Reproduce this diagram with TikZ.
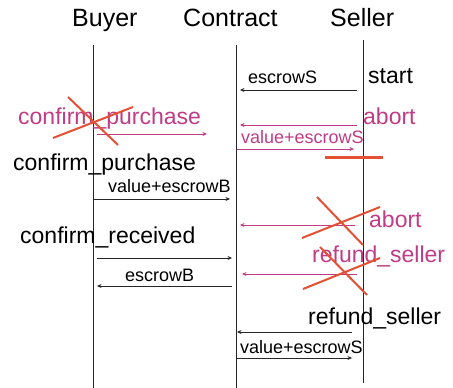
\documentclass[tikz,border=0pt]{standalone}
\usepackage{fontspec}
\setmainfont{Liberation Sans}
\usepackage{xcolor}
\usetikzlibrary{arrows.meta}
\tikzset{>={Stealth[length=4.5pt,width=4pt]}}
\definecolor{msgpink}{RGB}{192,60,132}
\definecolor{crossred}{RGB}{228,80,52}
\tikzset{
  lifeline/.style={line width=0.9pt, black!85},
  msg/.style={->, line width=0.8pt, black!85},
  pinkmsg/.style={->, line width=0.8pt, msgpink},
  txt/.style={inner sep=0pt, anchor=base west},
  party/.style={txt, font=\fontsize{25}{29}\selectfont},
  event/.style={txt, font=\fontsize{23}{27}\selectfont},
  small/.style={txt, font=\fontsize{18}{21}\selectfont},
  crossout/.style={line width=2pt, crossred}
}

\begin{document}
\begin{tikzpicture}[x=1pt,y=-1pt]
\useasboundingbox (0,0) rectangle (453,388);
%%%% parties
\node[party] (buyer) at (72,27) {Buyer};
\node[party] (contract) at (183,27) {Contract};
\node[party] (seller) at (330,27) {Seller};
\coordinate (btop) at (93,45);   \coordinate (bbot) at (93,388);
\coordinate (ctop) at (236,45);  \coordinate (cbot) at (236,388);
\coordinate (stop) at (363,40);  \coordinate (sbot) at (363,383);
\draw[lifeline] (btop) -- (bbot);
\draw[lifeline] (ctop) -- (cbot);
\draw[lifeline] (stop) -- (sbot);
%%%% start
\node[small] (escS) at (248,83) {escrowS};
\node[event] (start) at (368,83) {start};
\coordinate (m1a) at (357,90); \coordinate (m1b) at (240,90);
\draw[msg] (m1a) -- (m1b);
%%%% first abort / purchase (struck out)
\node[event, text=msgpink] (cp1) at (18,124) {confirm\_purchase};
\node[event, text=msgpink] (ab1) at (363,124) {abort};
\node[small, text=msgpink] (vesS1) at (241,143) {value+escrowS};
\coordinate (m2a) at (357,125); \coordinate (m2b) at (240,125);
\coordinate (m3a) at (97,134);  \coordinate (m3b) at (207,134);
\coordinate (m4a) at (237,149); \coordinate (m4b) at (354,149);
\draw[pinkmsg] (m2a) -- (m2b);
\draw[pinkmsg] (m3a) -- (m3b);
\draw[pinkmsg] (m4a) -- (m4b);
\draw[crossout] (68,97) -- (118,145);
\draw[crossout] (53,138) -- (133,107);
\draw[crossout, line width=3pt] (325,157) -- (383,157);
%%%% purchase
\node[event] (cp2) at (13,170) {confirm\_purchase};
\node[small] (vesB) at (108,192) {value+escrowB};
\coordinate (m5a) at (93,199); \coordinate (m5b) at (230,199);
\draw[msg] (m5a) -- (m5b);
%%%% second abort (struck out)
\node[event, text=msgpink] (ab2) at (369,227) {abort};
\coordinate (m6a) at (355,225); \coordinate (m6b) at (240,225);
\draw[pinkmsg] (m6a) -- (m6b);
\draw[crossout] (317,197) -- (363,245);
\draw[crossout] (302,238) -- (380,207);
%%%% received
\node[event] (cr) at (20,243) {confirm\_received};
\node[event, text=msgpink] (rs1) at (312,262) {refund\_seller};
\coordinate (m7a) at (97,258);  \coordinate (m7b) at (232,258);
\coordinate (m8a) at (357,274); \coordinate (m8b) at (242,274);
\coordinate (m9a) at (232,286); \coordinate (m9b) at (97,286);
\draw[msg] (m7a) -- (m7b);
\draw[pinkmsg] (m8a) -- (m8b);
\node[small] (escB) at (125,281) {escrowB};
\draw[msg] (m9a) -- (m9b);
\draw[crossout] (320,247) -- (367,295);
\draw[crossout] (303,289) -- (380,258);
%%%% refund
\node[event] (rs2) at (308,324) {refund\_seller};
\node[small] (vesS2) at (240,353) {value+escrowS};
\coordinate (m10a) at (352,332); \coordinate (m10b) at (237,332);
\coordinate (m11a) at (237,358); \coordinate (m11b) at (352,358);
\draw[msg] (m10a) -- (m10b);
\draw[msg] (m11a) -- (m11b);
\end{tikzpicture}
\end{document}
